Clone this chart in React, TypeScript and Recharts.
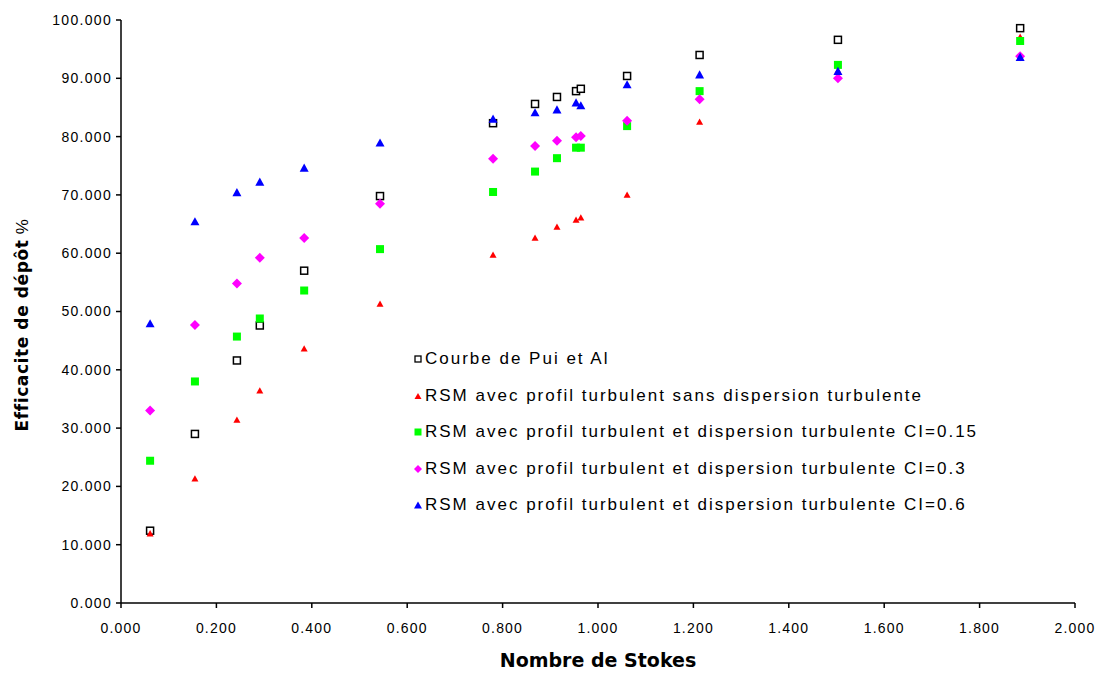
import React from 'react';
import {
  ScatterChart,
  Scatter,
  XAxis,
  YAxis,
} from 'recharts';

// Nombre de Stokes (shared by every series)
const stokes = [0.061, 0.155, 0.243, 0.291, 0.384, 0.543, 0.78, 0.868, 0.914, 0.954, 0.964, 1.061, 1.213, 1.503, 1.885];

const puiEtAl = [12.4, 29.0, 41.6, 47.6, 57.0, 69.8, 82.3, 85.6, 86.8, 87.8, 88.2, 90.4, 94.0, 96.6, 98.6];
const sansDispersion = [11.9, 21.3, 31.4, 36.4, 43.6, 51.3, 59.7, 62.6, 64.5, 65.7, 66.1, 70.0, 82.5, 91.3, 97.1];
const ci015 = [24.4, 38.0, 45.7, 48.8, 53.6, 60.7, 70.5, 74.0, 76.3, 78.1, 78.1, 81.8, 87.8, 92.3, 96.4];
const ci03 = [33.0, 47.7, 54.8, 59.2, 62.6, 68.5, 76.2, 78.4, 79.3, 79.9, 80.1, 82.7, 86.4, 90.0, 93.8];
const ci06 = [47.9, 65.4, 70.4, 72.2, 74.6, 78.9, 83.0, 84.1, 84.6, 85.8, 85.3, 88.9, 90.6, 91.2, 93.6];

const xTicks = [0, 0.2, 0.4, 0.6, 0.8, 1.0, 1.2, 1.4, 1.6, 1.8, 2.0];
const yTicks = [0, 10, 20, 30, 40, 50, 60, 70, 80, 90, 100];

const toPoints = (ys: number[]) => stokes.map((x, i) => ({ x, y: ys[i] }));

const HollowSquare = ({ cx, cy }: any) => (
  <rect x={cx - 3.5} y={cy - 3.5} width={7} height={7} fill="white" stroke="#000" strokeWidth={1.5} />
);
const SmallTriangle = (color: string, s: number) => ({ cx, cy }: any) => (
  <polygon points={`${cx},${cy - s} ${cx + s},${cy + s * 0.8} ${cx - s},${cy + s * 0.8}`} fill={color} />
);
const FilledSquare = ({ cx, cy }: any) => (
  <rect x={cx - 4} y={cy - 4} width={8} height={8} fill="#00ff00" />
);
const Diamond = ({ cx, cy }: any) => (
  <polygon points={`${cx},${cy - 5} ${cx + 5},${cy} ${cx},${cy + 5} ${cx - 5},${cy}`} fill="#ff00ff" />
);

const series = [
  { name: 'Courbe de Pui et Al', data: puiEtAl, shape: HollowSquare, legend: 'sq' },
  { name: 'RSM avec profil turbulent sans dispersion turbulente', data: sansDispersion, shape: SmallTriangle('#ff0000', 3.5), legend: 'tr' },
  { name: 'RSM avec profil turbulent et dispersion turbulente CI=0.15', data: ci015, shape: FilledSquare, legend: 'gs' },
  { name: 'RSM avec profil turbulent et dispersion turbulente CI=0.3', data: ci03, shape: Diamond, legend: 'di' },
  { name: 'RSM avec profil turbulent et dispersion turbulente CI=0.6', data: ci06, shape: SmallTriangle('#0000ff', 4.5), legend: 'bt' },
];

const font = '"Liberation Sans", Arial, sans-serif';
const boldFont = '"DejaVu Sans", sans-serif';

const LegendIcon = ({ kind }: { kind: string }) => (
  <svg width={8} height={8} style={{ marginRight: 3 }}>
    {kind === 'sq' && <rect x={1} y={1} width={6} height={6} fill="white" stroke="#000" strokeWidth={1.3} />}
    {kind === 'tr' && <polygon points="4,1 7.5,7 0.5,7" fill="#ff0000" />}
    {kind === 'gs' && <rect x={0.5} y={0.5} width={7} height={7} fill="#00ff00" />}
    {kind === 'di' && <polygon points="4,0 8,4 4,8 0,4" fill="#ff00ff" />}
    {kind === 'bt' && <polygon points="4,0.5 8,7.5 0,7.5" fill="#0000ff" />}
  </svg>
);

const LegendBox = () => (
  <div
    style={{
      position: 'absolute',
      left: 414,
      top: 341,
      fontFamily: font,
      fontSize: 17,
      letterSpacing: 2,
      color: '#000',
      whiteSpace: 'nowrap',
    }}
  >
    {series.map((s) => (
      <div key={s.name} style={{ display: 'flex', alignItems: 'center', height: 36.5 }}>
        <LegendIcon kind={s.legend} />
        <span>{s.name}</span>
      </div>
    ))}
  </div>
);

const YLabel = () => (
  <text
    x={22}
    y={325}
    transform="rotate(-90 22 325)"
    textAnchor="middle"
    dominantBaseline="central"
    fontFamily={boldFont}
    fontSize={17}
    letterSpacing={0.6}
    fill="#000"
  >
    <tspan fontWeight="bold">Efficacite de dépôt</tspan>
    <tspan fontFamily={font}> %</tspan>
  </text>
);

export default function App() {
  return (
    <div style={{ position: 'absolute', left: 0, top: 0, width: 1097, height: 673, background: 'white' }}>
      <ScatterChart width={1097} height={673} margin={{ top: 20, right: 22, bottom: 0, left: 0 }}>
        <XAxis
          type="number"
          dataKey="x"
          domain={[0, 2]}
          ticks={xTicks}
          tickFormatter={(v: number) => v.toFixed(3)}
          stroke="#000"
          strokeWidth={1.5}
          tickSize={5}
          tickMargin={15}
          tick={{ fill: '#000', fontSize: 14, fontFamily: font, letterSpacing: 1.2 }}
          height={70}
          label={{
            value: 'Nombre de Stokes',
            position: 'insideBottom',
            offset: 6,
            style: { fontFamily: boldFont, fontWeight: 'bold', fontSize: 19, fill: '#000' },
          }}
        />
        <YAxis
          type="number"
          dataKey="y"
          domain={[0, 100]}
          ticks={yTicks}
          tickFormatter={(v: number) => v.toFixed(3)}
          stroke="#000"
          strokeWidth={1.5}
          tickSize={5}
          tickMargin={4}
          tick={{ fill: '#000', fontSize: 14, fontFamily: font, letterSpacing: 1.3 }}
          width={121}
          label={<YLabel />}
        />
        {series.map((s) => (
          <Scatter
            key={s.name}
            name={s.name}
            data={toPoints(s.data)}
            shape={s.shape}
            isAnimationActive={false}
          />
        ))}
      </ScatterChart>
      <LegendBox />
    </div>
  );
}
